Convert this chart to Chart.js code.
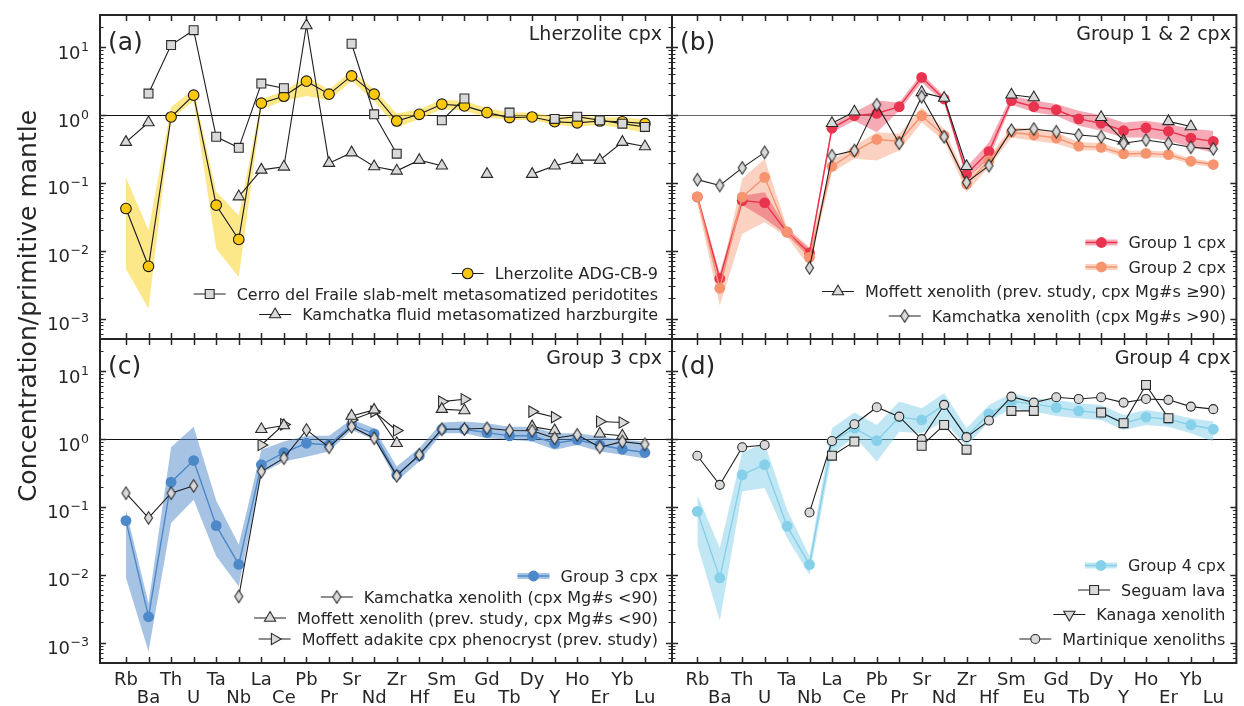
<!DOCTYPE html>
<html>
<head>
<meta charset="utf-8">
<script src="https://cdn.jsdelivr.net/npm/chart.js@4.4.1/dist/chart.umd.min.js"></script>
<style>
  html, body { margin: 0; padding: 0; background: #fff; }
  #wrap { position: relative; width: 1244px; height: 706px; }
  #wrap canvas { position: absolute; left: 0; top: 0; }
</style>
</head>
<body>
<div id="wrap">
  <canvas id="pa" width="1244" height="706"></canvas>
  <canvas id="pb" width="1244" height="706"></canvas>
  <canvas id="pc" width="1244" height="706"></canvas>
  <canvas id="pd" width="1244" height="706"></canvas>
</div>
<script>
// elements along the x axis
const elements = ['Rb', 'Ba', 'Th', 'U', 'Ta', 'Nb', 'La', 'Ce', 'Pb', 'Pr', 'Sr', 'Nd',
                  'Zr', 'Hf', 'Sm', 'Eu', 'Gd', 'Tb', 'Dy', 'Y', 'Ho', 'Er', 'Yb', 'Lu'];
const yDecades = [-3, -2, -1, 0, 1];

// (a) lherzolite cpx
const lherzolite   = [0.042, 0.0059, 0.94, 1.97, 0.047, 0.0147, 1.50, 1.9, 3.17, 2.04, 3.79, 2.04, 0.82, 1.03, 1.45, 1.37, 1.09, 0.92, 0.94, 0.80, 0.77, 0.82, 0.80, 0.75];
const lherzoliteHi = [0.12, 0.02, 1.32, 2.4, 0.075, 0.033, 1.72, 2.28, 3.66, 2.4, 4.5, 2.4, 1.06, 1.22, 1.7, 1.62, 1.27, 1.09, 1.09, 0.94, 0.98, 0.94, 0.92, 0.87];
const lherzoliteLo = [0.0054, 0.0014, 0.87, 1.62, 0.0107, 0.0041, 1.22, 1.62, 1.92, 1.66, 3.2, 1.62, 0.66, 0.87, 1.22, 1.16, 0.92, 0.85, 0.85, 0.72, 0.67, 0.72, 0.64, 0.55];
const cerroFraile  = [null, 2.08, 10.8, 17.9, 0.48, 0.33, 2.92, 2.5, null, null, 11.3, 1.03, 0.27, null, 0.84, 1.76, null, 1.09, null, 0.88, 0.95, 0.84, 0.75, 0.67];
const kamchatkaHz  = [0.40, 0.78, null, null, null, 0.063, 0.156, 0.173, 21, 0.196, 0.28, 0.175, 0.151, 0.217, 0.179, null, 0.135, null, 0.135, 0.179, 0.217, 0.217, 0.40, 0.345];

// (b) group 1 & 2 cpx
const group1   = [0.062, 0.0039, 0.055, 0.051, 0.0188, 0.0093, 0.64, 0.98, 1.06, 1.33, 3.6, 1.73, 0.136, 0.29, 1.64, 1.33, 1.2, 0.88, 0.76, 0.59, 0.65, 0.58, 0.46, 0.41];
const group1Hi = [0.07, 0.0047, 0.065, 0.073, 0.021, 0.0107, 0.72, 1.1, 1.64, 1.54, 4.1, 1.94, 0.17, 0.4, 1.94, 1.64, 1.46, 1.16, 1.0, 0.78, 0.83, 0.74, 0.63, 0.59];
const group1Lo = [0.055, 0.0033, 0.047, 0.030, 0.017, 0.0081, 0.56, 0.83, 0.56, 1.16, 3.04, 1.54, 0.115, 0.227, 1.43, 1.1, 0.98, 0.70, 0.59, 0.47, 0.47, 0.42, 0.34, 0.28];
const group2   = [0.063, 0.0028, 0.062, 0.121, 0.019, 0.008, 0.176, 0.29, 0.44, 0.41, 0.98, 0.5, 0.097, 0.214, 0.56, 0.51, 0.46, 0.35, 0.335, 0.268, 0.273, 0.262, 0.209, 0.187];
const group2Hi = [0.075, 0.00365, 0.115, 0.227, 0.022, 0.0113, 0.214, 0.355, 0.56, 0.53, 1.3, 0.63, 0.115, 0.25, 0.66, 0.63, 0.56, 0.4, 0.39, 0.30, 0.30, 0.29, 0.23, 0.205];
const group2Lo = [0.05, 0.00156, 0.0178, 0.0264, 0.016, 0.0057, 0.144, 0.227, 0.214, 0.30, 0.78, 0.42, 0.073, 0.17, 0.47, 0.42, 0.38, 0.3, 0.3, 0.24, 0.24, 0.235, 0.19, 0.17];
const moffettHiMg   = [null, null, null, null, null, null, 0.76, 1.12, null, null, 2.17, 1.79, 0.176, null, 2.0, 1.82, null, null, 0.93, 0.42, null, 0.81, 0.68, null];
const kamchatkaHiMg = [0.112, 0.092, 0.167, 0.283, null, 0.0056, 0.253, 0.3, 1.43, 0.385, 1.87, 0.48, 0.102, 0.18, 0.6, 0.626, 0.57, 0.51, 0.48, 0.385, 0.43, 0.385, 0.336, 0.318];

// (c) group 3 cpx
const group3   = [0.063, 0.0024, 0.232, 0.484, 0.053, 0.0142, 0.42, 0.635, 0.87, 0.82, 1.62, 1.2, 0.298, 0.57, 1.4, 1.4, 1.25, 1.12, 1.12, 0.87, 0.98, 0.82, 0.71, 0.635];
const group3Hi = [0.091, 0.0038, 0.76, 1.53, 0.125, 0.0278, 0.7, 0.92, 1.12, 1.12, 1.97, 1.45, 0.395, 0.74, 1.76, 1.82, 1.72, 1.53, 1.53, 1.22, 1.22, 1.09, 0.98, 0.92];
const group3Lo = [0.009, 0.00074, 0.058, 0.128, 0.0187, 0.0068, 0.315, 0.47, 0.55, 0.66, 1.37, 0.99, 0.24, 0.47, 1.22, 1.22, 1.03, 0.98, 0.92, 0.70, 0.82, 0.66, 0.59, 0.52];
const kamchatkaLoMg = [0.16, 0.069, 0.16, 0.205, null, 0.0048, 0.333, 0.525, 1.37, 0.76, 1.53, 1.03, 0.288, 0.59, 1.4, 1.41, 1.45, 1.34, 1.33, 1.03, 1.16, 0.76, 0.92, 0.84];
const moffettLoMg   = [null, null, null, null, null, null, 1.4, 1.59, null, null, 2.2, 2.7, 0.87, null, 2.77, 2.64, null, null, 1.53, 1.34, null, 1.2, 1.12, null];
const moffettAdakite = [null, null, null, null, null, null, 0.82, 1.65, null, null, 1.92, 2.55, 1.34, null, 3.58, 3.88, null, null, 2.55, 2.11, null, 1.82, 1.76, null];

// (d) group 4 cpx
const group4   = [0.086, 0.009, 0.298, 0.42, 0.052, 0.0141, 0.92, 1.45, 0.95, 2.11, 1.92, 3.2, 1.09, 2.36, 3.58, 3.31, 2.92, 2.61, 2.42, 1.72, 2.11, 1.97, 1.62, 1.4];
const group4Hi = [0.151, 0.0248, 0.635, 0.87, 0.091, 0.0187, 1.45, 2.47, 1.62, 3.58, 2.86, 4.75, 1.45, 3.2, 4.75, 4.0, 3.78, 3.39, 3.2, 2.28, 2.7, 2.42, 2.04, 1.82];
const group4Lo = [0.0277, 0.0021, 0.17, 0.19, 0.035, 0.01, 0.59, 1.09, 0.47, 1.29, 1.22, 1.82, 0.78, 1.82, 2.86, 2.55, 2.2, 2.04, 1.92, 1.37, 1.62, 1.53, 1.22, 0.92];
const seguamLava = [null, null, null, null, null, null, 0.57, 0.92, null, null, 0.8, 1.62, 0.7, null, 2.61, 2.61, null, null, 2.47, 1.72, 6.3, 2.04, null, null];
const kanagaXenolith = [null, null, null, null, null, null, null, null, null, null, null, null, null, null, null, null, null, null, null, null, null, null, null, null];
const martinique = [0.57, 0.212, 0.76, 0.82, null, 0.083, 0.94, 1.66, 2.96, 2.15, 1.0, 3.2, 1.07, 1.88, 4.24, 3.46, 4.15, 3.92, 4.15, 3.46, 3.92, 3.8, 3.02, 2.77];

const FONT = '"DejaVu Sans", sans-serif';
const INK = '#262626';
const GREY_FILL = '#d9d9d9';
const GREY_EDGE = '#2a2a2a';

Chart.defaults.font.family = FONT;

function pts(arr) {
    return arr.map((v, i) => ({ x: i, y: v }));
}

// thin diamond marker like matplotlib 'd'
function makeDiamond(hw, hh) {
    const c = document.createElement('canvas');
    c.width = Math.ceil(hw * 2 + 3);
    c.height = Math.ceil(hh * 2 + 3);
    const g = c.getContext('2d');
    const cx = c.width / 2, cy = c.height / 2;
    g.beginPath();
    g.moveTo(cx, cy - hh);
    g.lineTo(cx + hw, cy);
    g.lineTo(cx, cy + hh);
    g.lineTo(cx - hw, cy);
    g.closePath();
    g.fillStyle = GREY_FILL;
    g.fill();
    g.lineWidth = 1.1;
    g.strokeStyle = GREY_EDGE;
    g.stroke();
    return c;
}
const diamond = makeDiamond(4, 6.2);

function band(hi, lo, color, order) {
    return [
        { data: pts(hi), fill: '+1', backgroundColor: color, borderWidth: 0, pointRadius: 0, order: order },
        { data: pts(lo), fill: false, borderWidth: 0, pointRadius: 0, order: order }
    ];
}

function groupSeries(label, data, color, bandColor, order) {
    return {
        label: label, data: pts(data), borderColor: color, borderWidth: 1.4,
        pointStyle: 'circle', pointRadius: 5.4, pointBackgroundColor: color,
        pointBorderWidth: 0, order: order, bandColor: bandColor
    };
}

function refSeries(label, data, style, radius, rotation, order) {
    return {
        label: label, data: pts(data), borderColor: '#1e1e1e', borderWidth: 1.1,
        pointStyle: style, pointRadius: radius, pointRotation: rotation || 0,
        pointBackgroundColor: GREY_FILL, pointBorderColor: GREY_EDGE,
        pointBorderWidth: 1.1, order: order
    };
}

function drawMark(ctx, ds, x, y) {
    const st = ds.pointStyle, r = ds.pointRadius;
    if (st instanceof HTMLCanvasElement) {
        ctx.drawImage(st, x - st.width / 2, y - st.height / 2);
        return;
    }
    ctx.save();
    ctx.beginPath();
    if (st === 'circle') {
        ctx.arc(x, y, r, 0, Math.PI * 2);
    } else if (st === 'rect') {
        const s = r * Math.SQRT1_2;
        ctx.rect(x - s, y - s, 2 * s, 2 * s);
    } else if (st === 'triangle') {
        let rad = (ds.pointRotation || 0) * Math.PI / 180;
        ctx.moveTo(x + Math.sin(rad) * r, y - Math.cos(rad) * r);
        rad += 2 * Math.PI / 3;
        ctx.lineTo(x + Math.sin(rad) * r, y - Math.cos(rad) * r);
        rad += 2 * Math.PI / 3;
        ctx.lineTo(x + Math.sin(rad) * r, y - Math.cos(rad) * r);
        ctx.closePath();
    }
    ctx.fillStyle = ds.pointBackgroundColor;
    ctx.fill();
    if (ds.pointBorderWidth) {
        ctx.lineWidth = ds.pointBorderWidth;
        ctx.strokeStyle = ds.pointBorderColor;
        ctx.stroke();
    }
    ctx.restore();
}

const decor = {
    id: 'decor',
    beforeDatasetsDraw(chart, args, o) {
        const ctx = chart.ctx, a = chart.chartArea;
        const py = Math.round(chart.scales.y.getPixelForValue(1)) + 0.5;
        ctx.save();
        ctx.strokeStyle = o.hline;
        ctx.lineWidth = 1;
        ctx.beginPath();
        ctx.moveTo(a.left, py);
        ctx.lineTo(a.right, py);
        ctx.stroke();
        ctx.restore();
    },
    afterDraw(chart, args, o) {
        const ctx = chart.ctx, a = chart.chartArea;
        const xs = chart.scales.x, ys = chart.scales.y;
        ctx.save();
        ctx.strokeStyle = INK;
        // ticks pointing inwards on all four sides
        ctx.lineWidth = 1.5;
        ctx.beginPath();
        elements.forEach((el, i) => {
            const px = Math.round(xs.getPixelForValue(i)) + 0.5;
            ctx.moveTo(px, a.top); ctx.lineTo(px, a.top + 6);
            ctx.moveTo(px, a.bottom); ctx.lineTo(px, a.bottom - 6);
        });
        ctx.stroke();
        for (let d = -4; d <= 1; d++) {
            for (let k = 1; k <= 9; k++) {
                const v = k * Math.pow(10, d);
                if (v < ys.min || v > ys.max) continue;
                const py = Math.round(ys.getPixelForValue(v)) + 0.5;
                const len = k === 1 ? 6 : 3.5;
                ctx.lineWidth = k === 1 ? 1.5 : 1;
                ctx.beginPath();
                ctx.moveTo(a.left, py); ctx.lineTo(a.left + len, py);
                ctx.moveTo(a.right, py); ctx.lineTo(a.right - len, py);
                ctx.stroke();
            }
        }
        ctx.lineWidth = 2;
        ctx.strokeRect(a.left, a.top, a.right - a.left, a.bottom - a.top);

        ctx.fillStyle = INK;
        // y tick labels 10^n
        if (o.yLabels) {
            yDecades.forEach(d => {
                const py = ys.getPixelForValue(Math.pow(10, d));
                const ex = d < 0 ? '\u2212' + Math.abs(d) : String(d);
                ctx.font = '12.5px ' + FONT;
                const ew = ctx.measureText(ex).width;
                ctx.textAlign = 'left';
                ctx.fillText(ex, a.left - 11 - ew, py + 3.5);
                ctx.font = '18px ' + FONT;
                ctx.textAlign = 'right';
                ctx.fillText('10', a.left - 11.5 - ew, py + 11.5);
            });
        }
        // element labels, staggered in two rows
        if (o.xLabels) {
            ctx.font = '18px ' + FONT;
            ctx.textAlign = 'center';
            elements.forEach((el, i) => {
                const px = xs.getPixelForValue(i);
                ctx.fillText(el, px, a.bottom + (i % 2 ? 40 : 22));
            });
        }
        // panel letter and title
        ctx.font = '25px ' + FONT;
        ctx.textAlign = 'left';
        ctx.fillText(o.letter, a.left + 8, a.top + 35);
        ctx.font = '19px ' + FONT;
        ctx.textAlign = 'right';
        ctx.fillText(o.title, a.right - o.titleInset, a.top + 24.5);

        if (o.yTitle) {
            ctx.save();
            ctx.translate(o.yTitle.x, o.yTitle.y);
            ctx.rotate(-Math.PI / 2);
            ctx.font = o.yTitle.size + 'px ' + FONT;
            ctx.textAlign = 'center';
            ctx.fillText(o.yTitle.text, 0, 0);
            ctx.restore();
        }

        // legend, lower right
        const lg = o.legend;
        ctx.font = '16px ' + FONT;
        ctx.textAlign = 'left';
        lg.items.forEach((di, row) => {
            const ds = chart.data.datasets[di];
            const base = a.bottom - lg.bottom - (lg.items.length - 1 - row) * lg.rowH;
            const tw = ctx.measureText(ds.label).width;
            const tx = a.right - lg.right - tw;
            const x1 = tx - 11, x0 = x1 - 32, cy = base - 5.5;
            ctx.lineCap = 'butt';
            if (ds.bandColor) {
                ctx.strokeStyle = ds.bandColor;
                ctx.lineWidth = 6;
                ctx.beginPath(); ctx.moveTo(x0, cy); ctx.lineTo(x1, cy); ctx.stroke();
            }
            ctx.strokeStyle = ds.borderColor;
            ctx.lineWidth = ds.borderWidth;
            ctx.beginPath(); ctx.moveTo(x0, cy); ctx.lineTo(x1, cy); ctx.stroke();
            drawMark(ctx, ds, (x0 + x1) / 2, cy);
            ctx.fillStyle = INK;
            ctx.fillText(ds.label, tx, base);
        });
        ctx.restore();
    }
};
Chart.register(decor);

function panel(id, box, xRange, datasets, deco) {
    const ctx = document.getElementById(id).getContext('2d');
    return new Chart(ctx, {
        type: 'line',
        data: { datasets: datasets },
        options: {
            responsive: false,
            animation: false,
            events: [],
            spanGaps: false,
            elements: { line: { tension: 0 } },
            layout: { padding: { left: box[0], top: box[1], right: 1244 - box[2], bottom: 706 - box[3] } },
            scales: {
                x: { type: 'linear', min: xRange[0], max: xRange[1], display: false },
                y: { type: 'logarithmic', min: 5e-4, max: 30, display: false }
            },
            plugins: { legend: { display: false }, tooltip: { enabled: false }, decor: deco }
        }
    });
}

const leftX = [-1.15, 24.2];
const rightX = [-1.13, 24.03];

panel('pa', [100, 15, 672, 339], leftX, [
    ...band(lherzoliteHi, lherzoliteLo, 'rgba(250, 214, 40, 0.55)', 3),
    {
        label: 'Lherzolite ADG-CB-9', data: pts(lherzolite), borderColor: '#1a1a1a', borderWidth: 1.1,
        pointStyle: 'circle', pointRadius: 5.3, pointBackgroundColor: '#fcc80d',
        pointBorderColor: '#1a1a1a', pointBorderWidth: 1.1, order: 2
    },
    refSeries('Cerro del Fraile slab-melt metasomatized peridotites', cerroFraile, 'rect', 6.3, 0, 1),
    refSeries('Kamchatka fluid metasomatized harzburgite', kamchatkaHz, 'triangle', 6.5, 0, 1)
], {
    letter: '(a)', title: 'Lherzolite cpx', titleInset: 10, hline: '#111',
    yLabels: true, xLabels: false,
    yTitle: { text: 'Concentration/primitive mantle', x: 36, y: 306, size: 25 },
    legend: { items: [2, 3, 4], right: 14, bottom: 19, rowH: 20.5 }
});

panel('pb', [672, 15, 1240, 339], rightX, [
    ...band(group1Hi, group1Lo, 'rgba(232, 52, 78, 0.42)', 4),
    ...band(group2Hi, group2Lo, 'rgba(245, 148, 110, 0.42)', 5),
    groupSeries('Group 1 cpx', group1, '#e8344e', 'rgba(232, 52, 78, 0.42)', 3),
    groupSeries('Group 2 cpx', group2, '#f5946f', 'rgba(245, 148, 110, 0.42)', 2),
    refSeries('Moffett xenolith (prev. study, cpx Mg#s \u226590)', moffettHiMg, 'triangle', 6.5, 0, 1),
    refSeries('Kamchatka xenolith (cpx Mg#s >90)', kamchatkaHiMg, diamond, 5, 0, 0)
], {
    letter: '(b)', title: 'Group 1 & 2 cpx', titleInset: 5.5, hline: '#666',
    yLabels: false, xLabels: false,
    legend: { items: [4, 5, 6, 7], right: 10.5, bottom: 17.5, rowH: 24.5 }
});

panel('pc', [100, 339, 672, 663], leftX, [
    ...band(group3Hi, group3Lo, 'rgba(77, 136, 201, 0.5)', 3),
    groupSeries('Group 3 cpx', group3, '#4d88c9', 'rgba(77, 136, 201, 0.5)', 2),
    refSeries('Kamchatka xenolith (cpx Mg#s <90)', kamchatkaLoMg, diamond, 5, 0, 0),
    refSeries('Moffett xenolith (prev. study, cpx Mg#s <90)', moffettLoMg, 'triangle', 6.5, 0, 1),
    refSeries('Moffett adakite cpx phenocryst (prev. study)', moffettAdakite, 'triangle', 6.5, 90, 1)
], {
    letter: '(c)', title: 'Group 3 cpx', titleInset: 10, hline: '#111',
    yLabels: true, xLabels: true,
    legend: { items: [2, 3, 4, 5], right: 14, bottom: 18.5, rowH: 21 }
});

panel('pd', [672, 339, 1240, 663], rightX, [
    ...band(group4Hi, group4Lo, 'rgba(134, 208, 234, 0.5)', 3),
    groupSeries('Group 4 cpx', group4, '#86d0ea', 'rgba(134, 208, 234, 0.5)', 2),
    refSeries('Seguam lava', seguamLava, 'rect', 6.3, 0, 1),
    refSeries('Kanaga xenolith', kanagaXenolith, 'triangle', 6.5, 180, 1),
    refSeries('Martinique xenoliths', martinique, 'circle', 4.5, 0, 1)
], {
    letter: '(d)', title: 'Group 4 cpx', titleInset: 6, hline: '#111',
    yLabels: false, xLabels: true,
    legend: { items: [2, 3, 4, 5], right: 11, bottom: 18.5, rowH: 24.5 }
});
</script>
</body>
</html>
